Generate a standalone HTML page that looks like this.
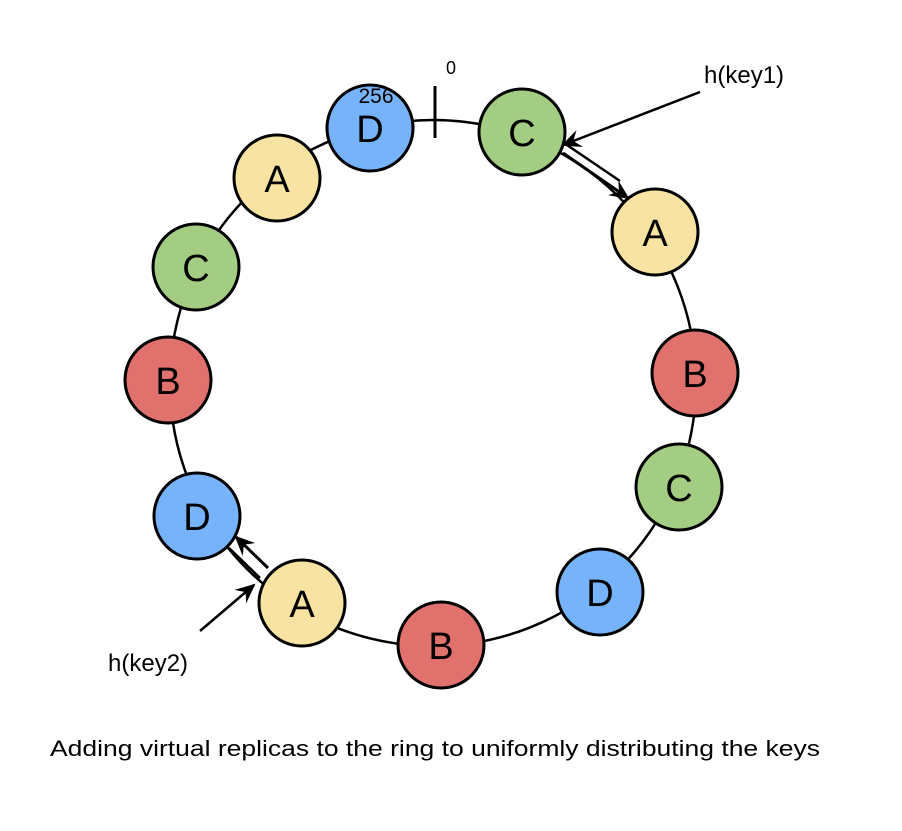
<!DOCTYPE html>
<html><head><meta charset="utf-8"><style>
html,body{margin:0;padding:0;background:#fff;}
svg text{font-family:"Liberation Sans",Arial,sans-serif;fill:#000;}
.n{font-size:38px;}
</style></head><body>
<svg width="902" height="826" viewBox="0 0 902 826" xmlns="http://www.w3.org/2000/svg">
<defs>
<marker id="ah2" viewBox="0 0 10 10" refX="9" refY="5" markerWidth="20" markerHeight="20" orient="auto" markerUnits="userSpaceOnUse">
<path d="M0,0.5 L10,5 L0,9.5 L3.5,5 Z" fill="#000"/>
</marker>
</defs>
<circle cx="433" cy="383" r="263" fill="none" stroke="#000" stroke-width="2.5"/>
<line x1="435" y1="86" x2="435" y2="138" stroke="#000" stroke-width="3"/>
<text x="446" y="74" style="font-size:18px">0</text>
<line x1="563" y1="153" x2="628" y2="198" stroke="#000" stroke-width="3" marker-end="url(#ah2)"/>
<line x1="567" y1="145" x2="620" y2="181" stroke="#000" stroke-width="2.5"/>
<line x1="268" y1="568" x2="236" y2="537" stroke="#000" stroke-width="3" marker-end="url(#ah2)"/>
<line x1="260" y1="578" x2="229" y2="548" stroke="#000" stroke-width="2.5"/>
<line x1="700" y1="92" x2="563" y2="145" stroke="#000" stroke-width="2.5" marker-end="url(#ah2)"/>
<line x1="200" y1="631" x2="254" y2="585" stroke="#000" stroke-width="2.5" marker-end="url(#ah2)"/>
<g stroke="#000" stroke-width="3">
<circle cx="370" cy="128" r="43" fill="#77b3fb"/>
<circle cx="522" cy="132" r="43" fill="#a2cd82"/>
<circle cx="655" cy="232" r="43" fill="#f9e3a2"/>
<circle cx="695" cy="373" r="43" fill="#e0716c"/>
<circle cx="679" cy="487" r="43" fill="#a2cd82"/>
<circle cx="600" cy="592" r="43" fill="#77b3fb"/>
<circle cx="441" cy="645" r="43" fill="#e0716c"/>
<circle cx="302" cy="603" r="43" fill="#f9e3a2"/>
<circle cx="197" cy="516" r="43" fill="#77b3fb"/>
<circle cx="168" cy="380" r="43" fill="#e0716c"/>
<circle cx="196" cy="267" r="43" fill="#a2cd82"/>
<circle cx="277" cy="178" r="43" fill="#f9e3a2"/>
</g>
<g text-anchor="middle">
<text class="n" x="370" y="142">D</text>
<text class="n" x="522" y="146">C</text>
<text class="n" x="655" y="246">A</text>
<text class="n" x="695" y="387">B</text>
<text class="n" x="679" y="501">C</text>
<text class="n" x="600" y="606">D</text>
<text class="n" x="441" y="659">B</text>
<text class="n" x="302" y="617">A</text>
<text class="n" x="197" y="530">D</text>
<text class="n" x="168" y="394">B</text>
<text class="n" x="196" y="281">C</text>
<text class="n" x="277" y="192">A</text>
</g>
<text x="376" y="103" text-anchor="middle" style="font-size:21px">256</text>
<text x="704" y="83" style="font-size:24px">h(key1)</text>
<text x="108" y="671" style="font-size:24px">h(key2)</text>
<text x="50" y="756" style="font-size:22px" textLength="770" lengthAdjust="spacingAndGlyphs">Adding virtual replicas to the ring to uniformly distributing the keys</text>
</svg>
</body></html>
